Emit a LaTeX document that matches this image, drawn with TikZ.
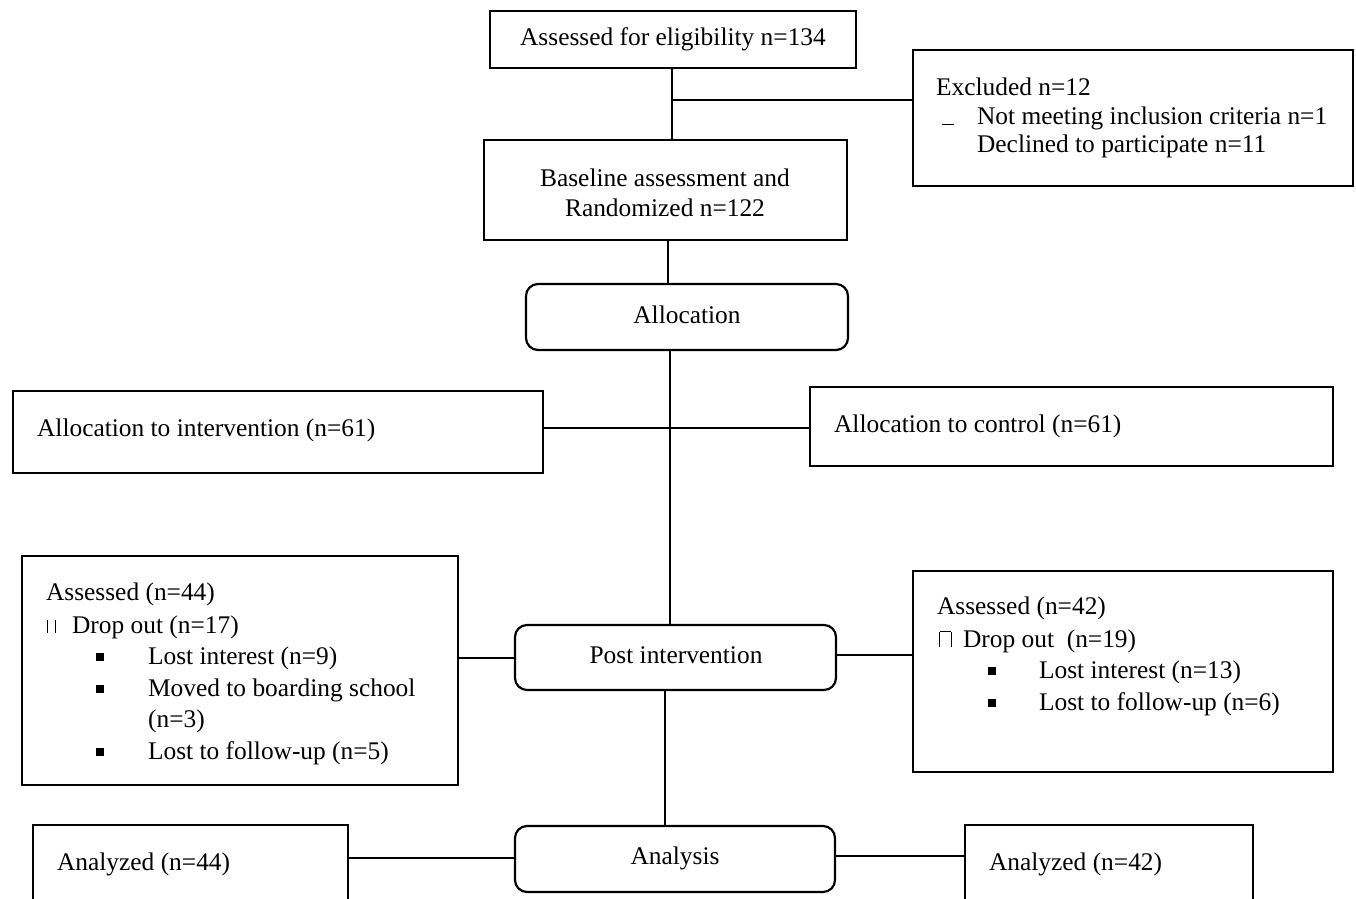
\documentclass[tikz,border=0pt]{standalone}
\usepackage{fontspec}
\setmainfont{Liberation Serif}
\usetikzlibrary{fit}
\begin{document}
\begin{tikzpicture}[x=0.5pt,y=-0.5pt,line width=1.1pt,
  sqbox/.style={draw,inner sep=0pt},
  rndbox/.style={draw,inner sep=0pt,rounded corners=6pt},
  txt/.style={inner sep=0pt,anchor=base west,font=\fontsize{12.7}{15.8}\selectfont},
  ctxt/.style={inner sep=0pt,anchor=base,font=\fontsize{12.7}{15.8}\selectfont},
  bul/.style={fill=black,draw=none,inner sep=0pt,minimum size=3.6pt}]
\useasboundingbox (0,0) rectangle (1356,899);
\clip (0,0) rectangle (1356,899);
% boxes
\node[sqbox,fit={(490,11) (856,68)}] (A) {};
\node[sqbox,fit={(913,50) (1353,186)}] (E) {};
\node[sqbox,fit={(484,140) (847,240)}] (B) {};
\node[rndbox,fit={(526,284) (848,350)}] (Alloc) {};
\node[sqbox,fit={(13,391) (543,473)}] (AI) {};
\node[sqbox,fit={(810,387) (1333,466)}] (AC) {};
\node[sqbox,fit={(22,556) (458,785)}] (LB) {};
\node[rndbox,fit={(515,625) (836,690)}] (Post) {};
\node[sqbox,fit={(913,571) (1333,772)}] (RB) {};
\node[rndbox,fit={(515,826) (835,892)}] (Analysis) {};
\node[sqbox,fit={(33,825) (348,920)}] (L44) {};
\node[sqbox,fit={(965,825) (1253,920)}] (R42) {};
% texts
\node[ctxt] (tA) at (673,46) {Assessed for eligibility n=134};
\node[txt] (tE1) at (935,96) {Excluded n=12};
\node[txt] (tE0) at (941,125) {\rule{0.45em}{0.6pt}};
\node[txt] (tE2) at (976,125) {Not meeting inclusion criteria n=1};
\node[txt] (tE3) at (976,153) {Declined to participate n=11};
\node[ctxt] (tB1) at (665,186) {Baseline assessment and};
\node[ctxt] (tB2) at (665,217) {Randomized n=122};
\node[ctxt] (tAl) at (687,323) {Allocation};
\node[txt] (tAI) at (36,436) {Allocation to intervention (n=61)};
\node[txt] (tAC) at (833,432) {Allocation to control (n=61)};
% left box
\node[txt] (tL1) at (45,600) {Assessed (n=44)};
\node[txt] (tL2a) at (46,633) {\rule{0.4pt}{0.5em}\hspace{3.6pt}\rule{0.4pt}{0.5em}};
\node[txt] (tL2) at (71,633) {Drop out (n=17)};
\node[bul] (bL1) at (100,657) {};
\node[txt] (tL3) at (147,664) {Lost interest (n=9)};
\node[bul] (bL2) at (100,689) {};
\node[txt] (tL4) at (147,696) {Moved to boarding school};
\node[txt] (tL5) at (147,727) {(n=3)};
\node[bul] (bL3) at (100,752) {};
\node[txt] (tL6) at (147,759) {Lost to follow-up (n=5)};
% right box
\node[txt] (tR1) at (936,614) {Assessed (n=42)};
\node[txt] (tR2a) at (938,647) {\rule{0.5pt}{0.6em}\rule[0.58em]{0.42em}{0.5pt}\rule{0.5pt}{0.6em}};
\node[txt] (tR2) at (962,647) {Drop out\ \ (n=19)};
\node[bul] (bR1) at (992,671) {};
\node[txt] (tR3) at (1038,678) {Lost interest (n=13)};
\node[bul] (bR2) at (992,703) {};
\node[txt] (tR4) at (1038,710) {Lost to follow-up (n=6)};
\node[ctxt] (tPost) at (676,663) {Post intervention};
\node[ctxt] (tAn) at (675,864) {Analysis};
\node[txt] (tL44) at (56,870) {Analyzed (n=44)};
\node[txt] (tR42) at (988,870) {Analyzed (n=42)};
% connectors
\coordinate (x1) at (672,100);
\draw (x1 |- A.south) -- (x1 |- B.north);
\draw (x1) -- (x1 -| E.west);
\coordinate (x2) at (668,0);
\draw (x2 |- B.south) -- (x2 |- Alloc.north);
\coordinate (x3) at (670,0);
\draw (x3 |- Alloc.south) -- (x3 |- Post.north);
\coordinate (y1) at (0,428);
\draw (AI.east |- y1) -- (AC.west |- y1);
\coordinate (y2) at (0,658);
\draw (LB.east |- y2) -- (Post.west |- y2);
\coordinate (y3) at (0,655);
\draw (Post.east |- y3) -- (RB.west |- y3);
\coordinate (x4) at (665,0);
\draw (x4 |- Post.south) -- (x4 |- Analysis.north);
\coordinate (y4) at (0,858);
\draw (L44.east |- y4) -- (Analysis.west |- y4);
\coordinate (y5) at (0,856);
\draw (Analysis.east |- y5) -- (R42.west |- y5);
\end{tikzpicture}
\end{document}
